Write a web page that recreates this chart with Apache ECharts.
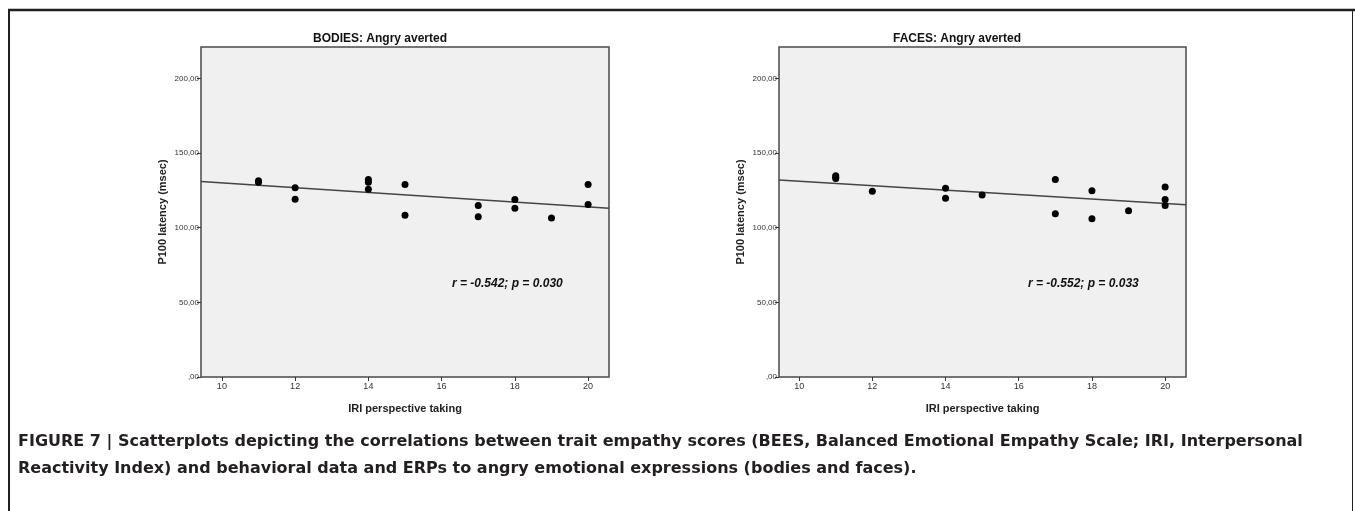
<!DOCTYPE html>
<html>
<head>
<meta charset="utf-8">
<script src="https://cdn.jsdelivr.net/npm/echarts@6/dist/echarts.min.js"></script>
<style>
html,body{margin:0;padding:0;background:#fff;}
#chart{width:1355px;height:511px;}
</style>
</head>
<body>
<div id="chart"></div>
<script>
// ---- data ----
const xTickValues = [10, 12, 14, 16, 18, 20];
const yTickValues = [0, 50, 100, 150, 200];
const yTickLabels = [',00', '50,00', '100,00', '150,00', '200,00'];

const bodiesX = [11, 11, 12, 12, 14, 14, 14, 15, 15, 17, 17, 18, 18, 19, 20, 20];
const bodiesY = [131.5, 130.5, 126.8, 119.0, 132.2, 130.4, 125.7, 128.9, 108.3, 114.8, 107.4, 118.8, 113.0, 106.4, 128.9, 115.6];
const bodiesFitX = [9.43, 20.57];
const bodiesFitY = [130.9, 113.0];

const facesX = [11, 11, 11, 12, 14, 14, 15, 17, 17, 18, 18, 19, 20, 20, 20];
const facesY = [134.7, 133.8, 132.9, 124.4, 126.4, 119.7, 121.9, 132.2, 109.4, 124.8, 106.0, 111.4, 127.2, 118.8, 114.8];
const facesFitX = [9.45, 20.57];
const facesFitY = [132.0, 115.4];

const titles = ['BODIES: Angry averted', 'FACES: Angry averted'];
const statsText = ['r = -0.542; p = 0.030', 'r = -0.552; p = 0.033'];
const xName = 'IRI perspective taking';
const yName = 'P100 latency (msec)';
const captionLines = [
  'FIGURE 7 | Scatterplots depicting the correlations between trait empathy scores (BEES, Balanced Emotional Empathy Scale; IRI, Interpersonal',
  'Reactivity Index) and behavioral data and ERPs to angry emotional expressions (bodies and faces).'
];

const zip = (a, b) => a.map((v, i) => [v, b[i]]);

const chart = echarts.init(document.getElementById('chart'), null, {renderer: 'canvas'});

const grids = [
  {left: 201, right: 746, top: 47, bottom: 134},
  {left: 779, right: 169, top: 47, bottom: 134}
];

function xAxis(i, min, max) {
  return {
    type: 'value', gridIndex: i, min: min, max: max,
    name: xName, nameLocation: 'middle', nameGap: 26,
    nameTextStyle: {fontFamily: 'Liberation Sans', fontWeight: 'bold', fontSize: 11, color: '#222'},
    axisLine: {show: false},
    splitLine: {show: false},
    axisTick: {show: true, length: 4, inside: false, customValues: xTickValues, lineStyle: {color: '#333', width: 1}},
    axisLabel: {customValues: xTickValues, fontFamily: 'Liberation Sans', fontSize: 9, color: '#333', margin: 5}
  };
}
function yAxis(i) {
  return {
    type: 'value', gridIndex: i, min: 0, max: 221,
    name: yName, nameLocation: 'middle', nameGap: 33, nameRotate: 90,
    nameTextStyle: {fontFamily: 'Liberation Sans', fontWeight: 'bold', fontSize: 11, color: '#222'},
    axisLine: {show: false},
    splitLine: {show: false},
    axisTick: {show: true, length: 4, inside: false, customValues: yTickValues, lineStyle: {color: '#333', width: 1}},
    axisLabel: {
      customValues: yTickValues, fontFamily: 'Liberation Sans', fontSize: 8, color: '#333', margin: 2,
      formatter: v => yTickLabels[yTickValues.indexOf(v)]
    }
  };
}

const option = {
  backgroundColor: '#ffffff',
  animation: false,
  title: [
    {text: titles[0], left: 375, top: 28, textAlign: 'center',
     textStyle: {fontFamily: 'Liberation Sans', fontWeight: 'bold', fontSize: 12, color: '#111'}},
    {text: titles[1], left: 952, top: 28, textAlign: 'center',
     textStyle: {fontFamily: 'Liberation Sans', fontWeight: 'bold', fontSize: 12, color: '#111'}}
  ],
  grid: grids.map(g => Object.assign({show: true, backgroundColor: '#f0f0f0', borderColor: '#4a4a4a', borderWidth: 1.5}, g)),
  xAxis: [xAxis(0, 9.43, 20.57), xAxis(1, 9.45, 20.57)],
  yAxis: [yAxis(0), yAxis(1)],
  series: [
    {type: 'line', xAxisIndex: 0, yAxisIndex: 0, data: zip(bodiesFitX, bodiesFitY), symbol: 'none',
     lineStyle: {color: '#444', width: 1.5}, z: 2},
    {type: 'scatter', xAxisIndex: 0, yAxisIndex: 0, data: zip(bodiesX, bodiesY), symbolSize: 7,
     itemStyle: {color: '#000', opacity: 1}, z: 3},
    {type: 'line', xAxisIndex: 1, yAxisIndex: 1, data: zip(facesFitX, facesFitY), symbol: 'none',
     lineStyle: {color: '#444', width: 1.5}, z: 2},
    {type: 'scatter', xAxisIndex: 1, yAxisIndex: 1, data: zip(facesX, facesY), symbolSize: 7,
     itemStyle: {color: '#000', opacity: 1}, z: 3}
  ],
  graphic: [
    {type: 'text', left: 452, top: 278, style: {text: statsText[0], font: 'italic bold 12px "Liberation Sans"', fill: '#111'}},
    {type: 'text', left: 1028, top: 278, style: {text: statsText[1], font: 'italic bold 12px "Liberation Sans"', fill: '#111'}},
    {type: 'line', shape: {x1: 8, y1: 10, x2: 1355, y2: 10}, style: {stroke: '#231f20', lineWidth: 2.5}},
    {type: 'line', shape: {x1: 9, y1: 9, x2: 9, y2: 511}, style: {stroke: '#231f20', lineWidth: 2}},
    {type: 'line', shape: {x1: 1352.5, y1: 10, x2: 1352.5, y2: 511}, style: {stroke: '#231f20', lineWidth: 1}},
    {type: 'text', left: 18, top: 434, style: {text: captionLines[0], font: 'bold 16px "DejaVu Sans"', fill: '#231f20'}},
    {type: 'text', left: 18, top: 461, style: {text: captionLines[1], font: 'bold 16px "DejaVu Sans"', fill: '#231f20'}}
  ]
};
chart.setOption(option);
</script>
</body>
</html>
